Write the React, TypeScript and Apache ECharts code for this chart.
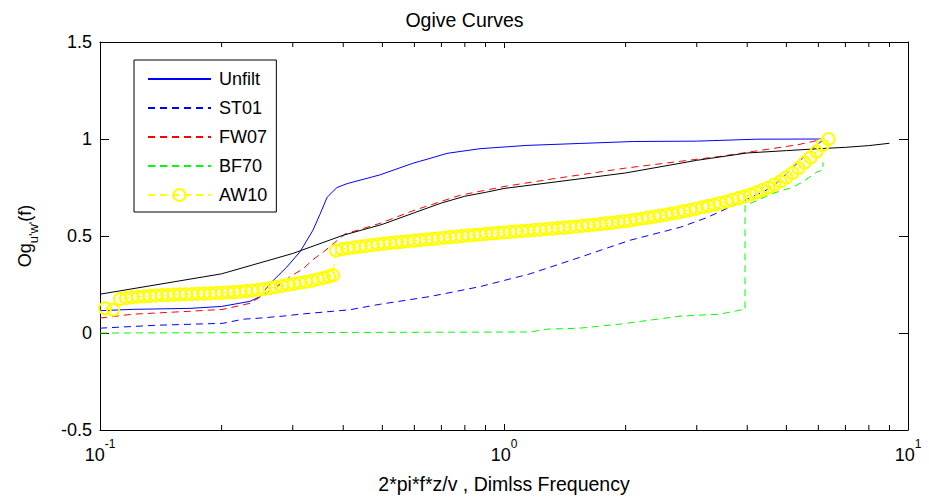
import React, { useEffect, useRef } from 'react';
import * as echarts from 'echarts';

const TITLE = 'Ogive Curves';
const X_TITLE = '2*pi*f*z/v , Dimlss Frequency';
const X_MIN = 0.1;
const X_MAX = 10;
const Y_MIN = -0.5;
const Y_MAX = 1.5;
const Y_STEP = 0.5;
const MINOR_TICKS = [0.2, 0.3, 0.4, 0.5, 0.6, 0.7, 0.8, 0.9, 2, 3, 4, 5, 6, 7, 8, 9];

const UNFILT: [number, number][] = [
  [0.1, 0.115], [0.121, 0.122], [0.167, 0.127], [0.2, 0.137], [0.235, 0.163], [0.249, 0.188],
  [0.2635, 0.254], [0.282, 0.315], [0.29, 0.34], [0.313, 0.42], [0.3366, 0.53], [0.35, 0.61],
  [0.365, 0.7], [0.386, 0.75], [0.409, 0.77], [0.493, 0.815], [0.595, 0.875], [0.656, 0.9],
  [0.723, 0.926], [0.872, 0.95], [1.14, 0.967], [1.54, 0.977], [2.09, 0.987], [3.0, 0.989],
  [4.23, 0.999], [6.2, 1.0],
];

const ST01: [number, number][] = [
  [0.1, 0.025], [0.138, 0.04], [0.2016, 0.05], [0.226, 0.071], [0.249, 0.077], [0.284, 0.087],
  [0.313, 0.097], [0.416, 0.12], [0.493, 0.148], [0.656, 0.188], [0.872, 0.239], [1.16, 0.305],
  [1.54, 0.39], [2.05, 0.478], [2.73, 0.545], [3.18, 0.595], [4.0, 0.69], [4.6, 0.75],
  [5.0, 0.82], [5.35, 0.88], [5.8, 0.95], [6.2, 1.0],
];

const FW07: [number, number][] = [
  [0.1, 0.077], [0.1207, 0.097], [0.167, 0.112], [0.2016, 0.122], [0.235, 0.153], [0.274, 0.24],
  [0.295, 0.29], [0.318, 0.33], [0.336, 0.377], [0.357, 0.417], [0.404, 0.51], [0.493, 0.565],
  [0.595, 0.63], [0.778, 0.71], [1.0, 0.755], [1.278, 0.79], [2.0, 0.85], [2.73, 0.885],
  [3.42, 0.91], [4.14, 0.936], [5.32, 0.97], [5.81, 0.987], [6.16, 1.0],
];

const BF70: [number, number][] = [
  [0.1, 0], [1.16, 0.005], [1.28, 0.02], [1.54, 0.025], [1.94, 0.046], [2.73, 0.087],
  [3.42, 0.097], [3.88, 0.12], [3.95, 0.12], [3.95, 0.656], [4.63, 0.72], [5.17, 0.75],
  [5.5, 0.78], [5.95, 0.83], [6.16, 0.84], [6.16, 0.88],
];

const AW10_LOW: [number, number][] = [
  [0.1029, 0.127], [0.1077, 0.120], [0.1121, 0.175], [0.1160, 0.180], [0.1200, 0.184], [0.1242, 0.187],
  [0.1285, 0.189], [0.1330, 0.191], [0.1376, 0.193], [0.1424, 0.195], [0.1473, 0.196], [0.1525, 0.198],
  [0.1578, 0.199], [0.1632, 0.200], [0.1689, 0.201], [0.1748, 0.202], [0.1809, 0.203], [0.1872, 0.204],
  [0.1937, 0.206], [0.2004, 0.207], [0.2074, 0.209], [0.2146, 0.211], [0.2221, 0.213], [0.2298, 0.216],
  [0.2378, 0.219], [0.2460, 0.223], [0.2546, 0.227], [0.2634, 0.232], [0.2726, 0.237], [0.2821, 0.243],
  [0.2919, 0.249], [0.3021, 0.254], [0.3126, 0.259], [0.3234, 0.264], [0.3347, 0.270], [0.3463, 0.277],
  [0.3584, 0.285], [0.3687, 0.292], [0.3772, 0.298],
];

const AW10_HIGH: [number, number][] = [
  [0.3837, 0.425], [0.3971, 0.432], [0.4109, 0.437], [0.4252, 0.441], [0.4400, 0.445], [0.4554, 0.449],
  [0.4712, 0.453], [0.4876, 0.457], [0.5046, 0.461], [0.5222, 0.464], [0.5404, 0.467], [0.5592, 0.470],
  [0.5787, 0.473], [0.5989, 0.476], [0.6198, 0.479], [0.6414, 0.482], [0.6637, 0.485], [0.6868, 0.488],
  [0.7108, 0.491], [0.7355, 0.494], [0.7612, 0.497], [0.7877, 0.500], [0.8151, 0.503], [0.8435, 0.505],
  [0.8729, 0.508], [0.9033, 0.511], [0.9348, 0.513], [0.9664, 0.516], [1.000, 0.518], [1.035, 0.521],
  [1.071, 0.523], [1.108, 0.526], [1.147, 0.528], [1.187, 0.531], [1.228, 0.533], [1.271, 0.536],
  [1.315, 0.538], [1.361, 0.541], [1.408, 0.543], [1.457, 0.546], [1.508, 0.549], [1.561, 0.552],
  [1.615, 0.555], [1.671, 0.558], [1.730, 0.561], [1.790, 0.565], [1.852, 0.568], [1.917, 0.572],
  [1.984, 0.576], [2.053, 0.580], [2.124, 0.585], [2.198, 0.590], [2.275, 0.595], [2.354, 0.600],
  [2.436, 0.605], [2.521, 0.610], [2.609, 0.616], [2.700, 0.622], [2.794, 0.628], [2.891, 0.634],
  [2.992, 0.641], [3.096, 0.648], [3.204, 0.655], [3.316, 0.662], [3.431, 0.670], [3.551, 0.678],
  [3.675, 0.686], [3.803, 0.695], [3.935, 0.704], [4.072, 0.714], [4.214, 0.725], [4.361, 0.737],
  [4.513, 0.750], [4.670, 0.765], [4.833, 0.782], [5.001, 0.802], [5.176, 0.825], [5.356, 0.850],
  [5.543, 0.878], [5.736, 0.905], [5.936, 0.935], [6.142, 0.968], [6.357, 1.000],
];

const REFERENCE: [number, number][] = [
  [0.1, 0.2], [0.2, 0.305], [0.3, 0.41], [0.4, 0.504], [0.5, 0.56], [0.6, 0.62], [0.7, 0.67],
  [0.8, 0.705], [0.9, 0.725], [1.0, 0.745], [1.3, 0.775], [2.0, 0.825], [3.0, 0.89], [4.0, 0.928],
  [5.0, 0.94], [6.0, 0.95], [7.0, 0.957], [8.0, 0.966], [9.0, 0.978],
];

const FONT = "'Liberation Sans', Arial, Helvetica, sans-serif";
const DASH = [7, 5];

export default function App() {
  const ref = useRef<HTMLDivElement>(null);

  useEffect(() => {
    if (!ref.current) return;
    const chart = echarts.init(ref.current, undefined, { renderer: 'svg' });

    const tickStyle = { color: '#000', width: 1 };
    const hiddenSymbol = { opacity: 0 };

    const option: any = {
      animation: false,
      backgroundColor: '#fff',
      textStyle: { fontFamily: FONT, color: '#000' },
      title: {
        text: TITLE,
        left: 'center',
        top: 5,
        textStyle: { fontFamily: FONT, fontSize: 19.5, fontWeight: 'normal', color: '#000' },
      },
      grid: { left: 100, right: 21, top: 42, bottom: 64 },
      legend: {
        data: [
          { name: 'Unfilt', itemStyle: hiddenSymbol },
          { name: 'ST01', itemStyle: hiddenSymbol },
          { name: 'FW07', itemStyle: hiddenSymbol },
          { name: 'BF70', itemStyle: hiddenSymbol },
          { name: 'AW10' },
        ],
        orient: 'vertical',
        left: 134,
        top: 60,
        itemWidth: 63,
        itemHeight: 15,
        itemGap: 11,
        padding: [10, 9, 8, 13],
        backgroundColor: '#fff',
        borderColor: '#000',
        borderWidth: 1,
        borderRadius: 0,
        selectedMode: false,
        textStyle: { fontFamily: FONT, fontSize: 18, color: '#000', padding: [0, 0, 0, 3] },
      },
      xAxis: [
        {
          type: 'log',
          logBase: 10,
          min: X_MIN,
          max: X_MAX,
          position: 'bottom',
          name: X_TITLE,
          nameLocation: 'middle',
          nameGap: 44,
          nameTextStyle: { fontFamily: FONT, fontSize: 19.5, color: '#000' },
          axisLine: { onZero: false, lineStyle: { color: '#000', width: 1 } },
          axisTick: { inside: true, length: 6, lineStyle: tickStyle },
          splitLine: { show: false },
          axisLabel: {
            margin: 8,
            color: '#000',
            formatter: (v: number) => '{b|10}{s|' + Math.round(Math.log10(v)) + '}',
            rich: {
              b: { fontFamily: FONT, fontSize: 18, lineHeight: 26, verticalAlign: 'bottom', color: '#000' },
              s: { fontFamily: FONT, fontSize: 12, lineHeight: 12, verticalAlign: 'top', color: '#000' },
            },
          },
        },
        {
          type: 'log',
          logBase: 10,
          min: X_MIN,
          max: X_MAX,
          position: 'top',
          axisLine: { onZero: false, lineStyle: { color: '#000', width: 1 } },
          axisTick: { inside: true, length: 6, lineStyle: tickStyle },
          axisLabel: { show: false },
          splitLine: { show: false },
        },
      ],
      yAxis: [
        {
          type: 'value',
          min: Y_MIN,
          max: Y_MAX,
          interval: Y_STEP,
          position: 'left',
          name: "{m|Og}{s|u'w'}{m|(f)}",
          nameLocation: 'middle',
          nameRotate: 90,
          nameGap: 60,
          nameTextStyle: {
            rich: {
              m: { fontFamily: FONT, fontSize: 18, lineHeight: 24, verticalAlign: 'top', color: '#000' },
              s: { fontFamily: FONT, fontSize: 13, lineHeight: 13, verticalAlign: 'bottom', color: '#000' },
            },
          },
          axisLine: { show: true, onZero: false, lineStyle: { color: '#000', width: 1 } },
          axisTick: { show: true, inside: true, length: 9, lineStyle: tickStyle },
          splitLine: { show: false },
          axisLabel: { fontFamily: FONT, fontSize: 18, color: '#000', margin: 8 },
        },
        {
          type: 'value',
          min: Y_MIN,
          max: Y_MAX,
          interval: Y_STEP,
          position: 'right',
          axisLine: { show: true, onZero: false, lineStyle: { color: '#000', width: 1 } },
          axisTick: { show: true, inside: true, length: 9, lineStyle: tickStyle },
          splitLine: { show: false },
          axisLabel: { show: false },
        },
      ],
      series: [
        {
          name: 'Unfilt',
          type: 'line',
          data: UNFILT,
          symbol: 'none',
          silent: true,
          lineStyle: { color: '#0000ff', width: 1 },
          itemStyle: { color: '#0000ff' },
        },
        {
          name: 'ST01',
          type: 'line',
          data: ST01,
          symbol: 'none',
          silent: true,
          lineStyle: { color: '#0000ff', width: 1, type: DASH },
          itemStyle: { color: '#0000ff' },
        },
        {
          name: 'FW07',
          type: 'line',
          data: FW07,
          symbol: 'none',
          silent: true,
          lineStyle: { color: '#ff0000', width: 1, type: DASH },
          itemStyle: { color: '#ff0000' },
        },
        {
          name: 'BF70',
          type: 'line',
          data: BF70,
          symbol: 'none',
          silent: true,
          lineStyle: { color: '#00ff00', width: 1, type: DASH },
          itemStyle: { color: '#00ff00' },
        },
        {
          name: 'AW10',
          type: 'line',
          data: [...AW10_LOW, ...AW10_HIGH],
          symbol: 'circle',
          symbolSize: 12,
          showSymbol: true,
          showAllSymbol: true,
          silent: true,
          lineStyle: { color: '#ffff00', width: 1, type: DASH },
          itemStyle: { color: 'rgba(255,255,255,0)', borderColor: '#ffff00', borderWidth: 2 },
        },
        {
          name: 'Reference',
          type: 'line',
          data: REFERENCE,
          symbol: 'none',
          silent: true,
          lineStyle: { color: '#000', width: 1 },
          itemStyle: { color: '#000' },
        },
        {
          name: 'minorTicks',
          type: 'custom',
          silent: true,
          data: MINOR_TICKS.map((v) => [v, 0]),
          encode: { x: 0, y: 1 },
          renderItem: (params: any, api: any) => {
            const x = api.value(0);
            const pb = api.coord([x, Y_MIN]);
            const pt = api.coord([x, Y_MAX]);
            const st = { stroke: '#000', lineWidth: 1 };
            return {
              type: 'group',
              children: [
                { type: 'line', shape: { x1: pb[0], y1: pb[1], x2: pb[0], y2: pb[1] - 5 }, style: st },
                { type: 'line', shape: { x1: pt[0], y1: pt[1], x2: pt[0], y2: pt[1] + 5 }, style: st },
              ],
            };
          },
        },
      ],
    };

    chart.setOption(option);
    return () => chart.dispose();
  }, []);

  return (
    <div
      ref={ref}
      style={{ position: 'fixed', left: 0, top: 0, width: 929, height: 499, background: '#fff' }}
    />
  );
}
